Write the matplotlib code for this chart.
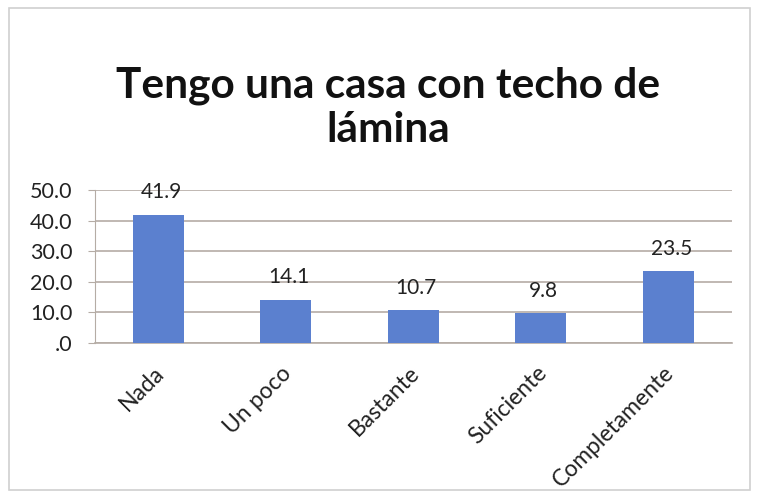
import matplotlib
matplotlib.use("Agg")
import matplotlib.pyplot as plt
from matplotlib.patches import Rectangle

categorias = ["Nada", "Un poco", "Bastante", "Suficiente", "Completamente"]
valores = [41.9, 14.1, 10.7, 9.8, 23.5]
yticks = [0, 10, 20, 30, 40, 50]
ytick_labels = [".0", "10.0", "20.0", "30.0", "40.0", "50.0"]

plt.rcParams["font.family"] = ["Lato", "DejaVu Sans"]

fig = plt.figure(figsize=(7.58, 5.03), dpi=100)
fig.patches.append(Rectangle((0.012, 0.025), 0.977, 0.96, transform=fig.transFigure,
                             fill=False, edgecolor="#d0d0d0", lw=1.2))

ax = fig.add_axes([0.125, 0.318, 0.841, 0.304])
x = range(len(categorias))
ax.bar(x, valores, width=0.4, color="#5b80cf", zorder=3)

for xi, v in zip(x, valores):
    ax.annotate(f"{v:.1f}", (xi, v), xytext=(2, 9), textcoords="offset points",
                ha="center", va="bottom", fontsize=15, color="#222222")

ax.set_xlim(-0.5, len(categorias) - 0.5)
ax.set_ylim(0, 50)
ax.set_yticks(yticks)
ax.set_yticklabels(ytick_labels, fontsize=15.5, color="#222222")
ax.yaxis.grid(True, color="#b5aca5", lw=1.2, zorder=0)
ax.set_xticks([xi - 0.04 for xi in x])
ax.set_xticklabels(categorias, rotation=45, ha="right", va="top",
                   rotation_mode="anchor", fontsize=16.5, color="#222222")
ax.tick_params(axis="x", length=0, pad=14)
ax.tick_params(axis="y", length=5, color="#b5aca5", pad=11)

for s in ["top", "right"]:
    ax.spines[s].set_visible(False)
ax.spines["left"].set_color("#b5aca5")
ax.spines["bottom"].set_color("#b5aca5")
ax.spines["bottom"].set_linewidth(1.2)

fig.text(0.512, 0.785, "Tengo una casa con techo de\nlámina", ha="center", va="center",
         fontsize=30.5, fontweight="bold", color="#111111", linespacing=1.2)

fig.savefig("out.png", dpi=100, facecolor="white")
